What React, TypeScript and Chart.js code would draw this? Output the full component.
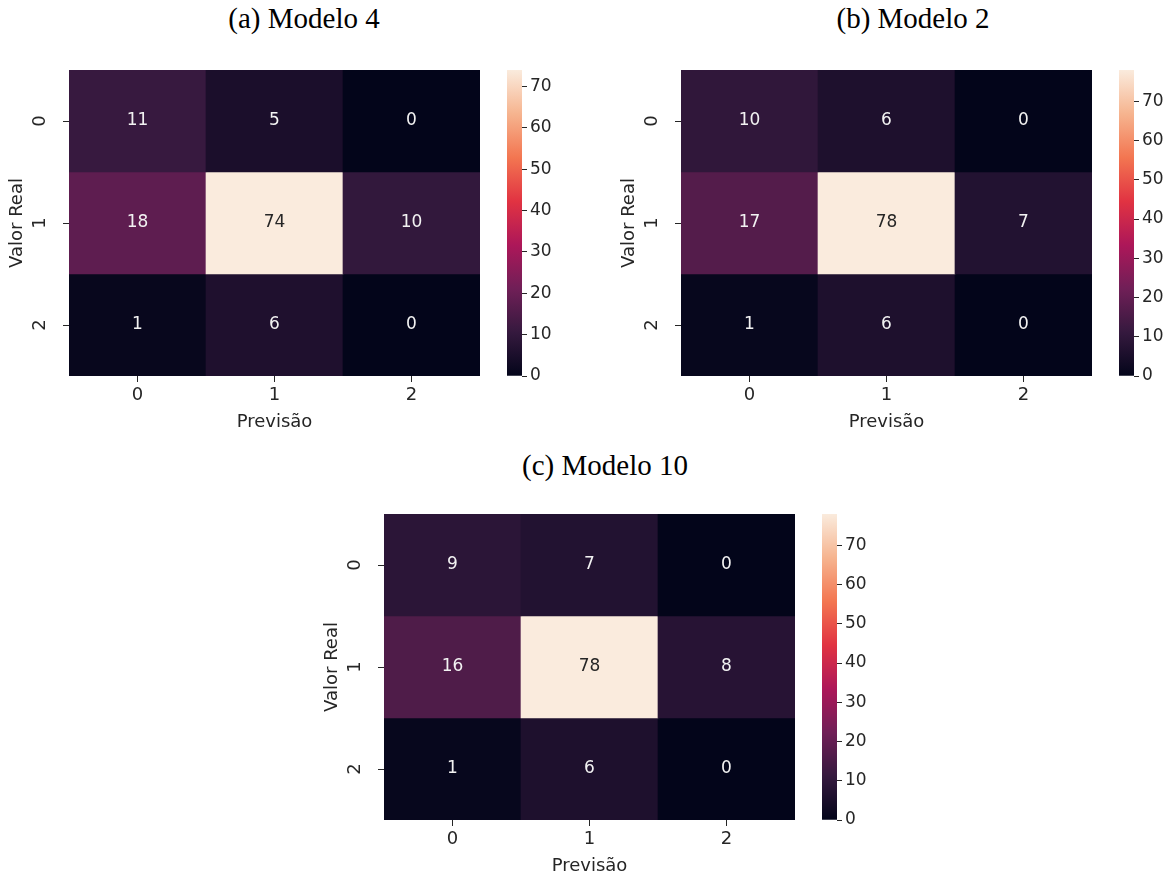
import React, { useEffect, useRef } from "react";
import { Chart, registerables } from "chart.js";

Chart.register(...registerables);

// ---------- data ----------
const categories = ["0", "1", "2"];
const matrixA = [
  [11, 5, 0],
  [18, 74, 10],
  [1, 6, 0],
];
const matrixB = [
  [10, 6, 0],
  [17, 78, 7],
  [1, 6, 0],
];
const matrixC = [
  [9, 7, 0],
  [16, 78, 8],
  [1, 6, 0],
];
const titles = ["(a) Modelo 4", "(b) Modelo 2", "(c) Modelo 10"];
const colorbarTicks = [0, 10, 20, 30, 40, 50, 60, 70];
const xAxisTitle = "Previsão";
const yAxisTitle = "Valor Real";

// seaborn "rocket" colormap key stops
const rocketStops: [number, [number, number, number]][] = [
  [0, [3, 5, 26]],
  [1 / 7, [53, 25, 62]],
  [2 / 7, [112, 31, 87]],
  [3 / 7, [173, 23, 89]],
  [4 / 7, [225, 51, 66]],
  [5 / 7, [243, 118, 81]],
  [6 / 7, [246, 180, 143]],
  [1, [250, 235, 221]],
];

function rocketRGB(t: number): [number, number, number] {
  const v = Math.max(0, Math.min(1, t));
  for (let i = 1; i < rocketStops.length; i++) {
    const [p1, c1] = rocketStops[i];
    const [p0, c0] = rocketStops[i - 1];
    if (v <= p1) {
      const f = (v - p0) / (p1 - p0);
      return [
        Math.round(c0[0] + (c1[0] - c0[0]) * f),
        Math.round(c0[1] + (c1[1] - c0[1]) * f),
        Math.round(c0[2] + (c1[2] - c0[2]) * f),
      ];
    }
  }
  return rocketStops[rocketStops.length - 1][1];
}
function rocket(t: number): string {
  const [r, g, b] = rocketRGB(t);
  return `rgb(${r},${g},${b})`;
}
function luminance(t: number): number {
  const [r, g, b] = rocketRGB(t).map((c) => {
    const s = c / 255;
    return s <= 0.03928 ? s / 12.92 : Math.pow((s + 0.055) / 1.055, 2.4);
  });
  return 0.2126 * r + 0.7152 * g + 0.0722 * b;
}

const TEXT = "#262626";
const SANS = "'DejaVu Sans', sans-serif";
const FS = 18;

function maxOf(m: number[][]) {
  return Math.max(...m.map((r) => Math.max(...r)));
}

function Heatmap({ matrix, left, top }: { matrix: number[][]; left: number; top: number }) {
  const ref = useRef<HTMLCanvasElement>(null);
  useEffect(() => {
    if (!ref.current) return;
    const vmax = maxOf(matrix);
    const annotate = {
      id: "annotate",
      afterDatasetsDraw(chart: any) {
        const { ctx, scales } = chart;
        ctx.save();
        ctx.font = `${FS - 1}px ${SANS}`;
        ctx.textAlign = "center";
        ctx.textBaseline = "middle";
        matrix.forEach((row, r) => {
          row.forEach((v, c) => {
            const px = scales.x.getPixelForValue(c);
            const py = scales.y.getPixelForValue(r);
            ctx.fillStyle = luminance(v / vmax) > 0.408 ? TEXT : "#f2f2f2";
            ctx.fillText(String(v), px, py);
          });
        });
        ctx.restore();
      },
    };
    const chart = new Chart(ref.current, {
      type: "bar",
      data: {
        labels: categories,
        datasets: matrix.map((row, r) => ({
          label: categories[r],
          data: row.map(() => [r - 0.5, r + 0.5]),
          backgroundColor: row.map((v) => rocket(v / vmax)),
          borderWidth: 0,
          borderSkipped: false,
          barPercentage: 1,
          categoryPercentage: 1,
          grouped: false,
        })) as any,
      },
      options: {
        animation: false,
        responsive: false,
        events: [],
        layout: { padding: { left: 0, top: 30, right: 10, bottom: 0 } },
        plugins: {
          legend: { display: false },
          tooltip: { enabled: false },
          title: { display: false },
        },
        scales: {
          x: {
            type: "category",
            offset: true,
            grid: {
              display: true,
              drawOnChartArea: false,
              drawTicks: true,
              tickLength: 6,
              color: TEXT,
              lineWidth: 1,
              offset: false,
            },
            border: { display: false },
            ticks: {
              font: { family: SANS, size: FS },
              color: TEXT,
              padding: 3,
              maxRotation: 0,
              autoSkip: false,
            },
            title: {
              display: true,
              text: xAxisTitle,
              font: { family: SANS, size: FS },
              color: TEXT,
              padding: { top: 0, bottom: 7 },
            },
            afterFit: (s: any) => {
              s.height = 64;
            },
          },
          y: {
            type: "linear",
            min: -0.5,
            max: 2.5,
            reverse: true,
            afterBuildTicks: (s: any) => {
              s.ticks = categories.map((_, i) => ({ value: i }));
            },
            grid: {
              display: true,
              drawOnChartArea: false,
              drawTicks: true,
              tickLength: 6,
              color: TEXT,
              lineWidth: 1,
            },
            border: { display: false },
            ticks: {
              font: { family: SANS, size: FS },
              color: TEXT,
              padding: 17,
              minRotation: 90,
              maxRotation: 90,
              crossAlign: "center",
              autoSkip: false,
              callback: (v: any) => categories[Number(v)] ?? String(v),
            },
            title: {
              display: true,
              text: yAxisTitle,
              font: { family: SANS, size: FS },
              color: TEXT,
              padding: { top: 7, bottom: 0 },
            },
            afterFit: (s: any) => {
              s.width = 69;
            },
          },
        },
      } as any,
      plugins: [annotate],
    });
    return () => chart.destroy();
  }, [matrix]);
  return (
    <canvas
      ref={ref}
      width={490}
      height={400}
      style={{ position: "absolute", left, top, width: 490, height: 400 }}
    />
  );
}

function Colorbar({ matrix, left, top }: { matrix: number[][]; left: number; top: number }) {
  const ref = useRef<HTMLCanvasElement>(null);
  useEffect(() => {
    if (!ref.current) return;
    const vmax = maxOf(matrix);
    const chart = new Chart(ref.current, {
      type: "bar",
      data: {
        labels: [""],
        datasets: [
          {
            data: [[0, vmax]],
            backgroundColor: (ctx: any) => {
              const ch = ctx.chart;
              const ys = ch.scales && ch.scales.y;
              if (!ch.chartArea || !ys) return "rgba(0,0,0,0)";
              const g = ch.ctx.createLinearGradient(
                0,
                ys.getPixelForValue(0),
                0,
                ys.getPixelForValue(vmax)
              );
              rocketStops.forEach(([p, c]) => g.addColorStop(p, `rgb(${c[0]},${c[1]},${c[2]})`));
              return g;
            },
            borderWidth: 0,
            borderSkipped: false,
            barPercentage: 1,
            categoryPercentage: 1,
          },
        ] as any,
      },
      options: {
        animation: false,
        responsive: false,
        events: [],
        layout: { padding: { left: 17, top: 30, right: 0, bottom: 64 } },
        plugins: {
          legend: { display: false },
          tooltip: { enabled: false },
        },
        scales: {
          x: { display: false, offset: true },
          y: {
            type: "linear",
            position: "right",
            min: 0,
            max: vmax,
            afterBuildTicks: (s: any) => {
              s.ticks = colorbarTicks.map((v) => ({ value: v }));
            },
            grid: {
              display: true,
              drawOnChartArea: false,
              drawTicks: true,
              tickLength: 5,
              color: TEXT,
              lineWidth: 1,
            },
            border: { display: false },
            ticks: {
              font: { family: SANS, size: FS - 1 },
              color: TEXT,
              padding: 3,
              autoSkip: false,
            },
            afterFit: (s: any) => {
              s.width = 68;
            },
          },
        },
      } as any,
    });
    return () => chart.destroy();
  }, [matrix]);
  return (
    <canvas
      ref={ref}
      width={100}
      height={400}
      style={{ position: "absolute", left, top, width: 100, height: 400 }}
    />
  );
}

function Panel({
  matrix,
  title,
  dx,
  dy,
  titleCenter,
  titleTop,
}: {
  matrix: number[][];
  title: string;
  dx: number;
  dy: number;
  titleCenter: number;
  titleTop: number;
}) {
  return (
    <>
      <div
        style={{
          position: "absolute",
          left: titleCenter - 200,
          top: titleTop,
          width: 400,
          textAlign: "center",
          fontFamily: "'Liberation Serif', serif",
          fontSize: 29,
          lineHeight: "34px",
          color: "#000",
          whiteSpace: "nowrap",
        }}
      >
        {title}
      </div>
      <Heatmap matrix={matrix} left={dx} top={dy + 40} />
      <Colorbar matrix={matrix} left={dx + 490} top={dy + 40} />
    </>
  );
}

export default function App() {
  return (
    <div
      style={{
        position: "absolute",
        left: 0,
        top: 0,
        width: 1176,
        height: 879,
        background: "#ffffff",
        overflow: "hidden",
      }}
    >
      <Panel matrix={matrixA} title={titles[0]} dx={0} dy={0} titleCenter={304} titleTop={1} />
      <Panel matrix={matrixB} title={titles[1]} dx={612} dy={0} titleCenter={913} titleTop={1} />
      <Panel matrix={matrixC} title={titles[2]} dx={315} dy={444} titleCenter={605} titleTop={448} />
    </div>
  );
}
